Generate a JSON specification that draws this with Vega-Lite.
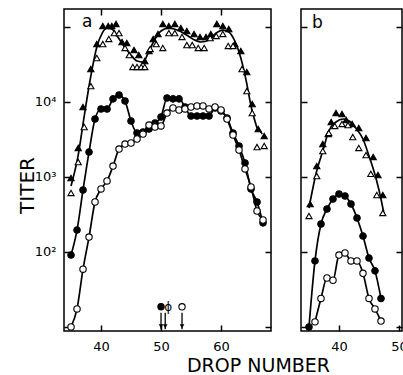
{
  "$schema": "https://vega.github.io/schema/vega-lite/v6.json",
  "background": "white",
  "padding": {"left": 16, "top": 7, "right": 0, "bottom": 0},
  "config": {
    "view": {"stroke": "black", "strokeWidth": 1.5},
    "font": "DejaVu Sans",
    "axis": {"domain": false, "grid": false, "tickColor": "black", "tickWidth": 1.5, "tickSize": -6, "labelColor": "black", "labelFont": "DejaVu Sans", "labelFontSize": 13, "titleColor": "black", "titleFont": "DejaVu Sans", "titleFontWeight": "normal", "titleFontSize": 20},
    "title": {"font": "DejaVu Sans", "fontWeight": "normal", "color": "black", "fontSize": 17}
  },
  "datasets": {
    "a_points": [
      {"series":"FC","drop":35,"titer":91},{"series":"FC","drop":36,"titer":196},{"series":"FC","drop":37,"titer":671},{"series":"FC","drop":38,"titer":2150},{"series":"FC","drop":39,"titer":5930},{"series":"FC","drop":40,"titer":8070},{"series":"FC","drop":41,"titer":8070},{"series":"FC","drop":42,"titer":11000},{"series":"FC","drop":43,"titer":12400},{"series":"FC","drop":44,"titer":10300},{"series":"FC","drop":45,"titer":5580},{"series":"FC","drop":46,"titer":3860},{"series":"FC","drop":47,"titer":3980},{"series":"FC","drop":48,"titer":4360},{"series":"FC","drop":49,"titer":5250},{"series":"FC","drop":50,"titer":6310},{"series":"FC","drop":51,"titer":11300},{"series":"FC","drop":52,"titer":11000},{"series":"FC","drop":53,"titer":11000},{"series":"FC","drop":54,"titer":8580},{"series":"FC","drop":55,"titer":6500},{"series":"FC","drop":56,"titer":6500},{"series":"FC","drop":57,"titer":6500},{"series":"FC","drop":58,"titer":6500},{"series":"FC","drop":59,"titer":8320},{"series":"FC","drop":60,"titer":7590},{"series":"FC","drop":61,"titer":6120},{"series":"FC","drop":62,"titer":3860},{"series":"FC","drop":63,"titer":2590},{"series":"FC","drop":64,"titer":1540},{"series":"FC","drop":65,"titer":692},{"series":"FC","drop":66,"titer":464},{"series":"FC","drop":67,"titer":244},
      {"series":"OC","drop":35,"titer":10},{"series":"OC","drop":36,"titer":17.4},{"series":"OC","drop":37,"titer":59},{"series":"OC","drop":38,"titer":158},{"series":"OC","drop":39,"titer":464},{"series":"OC","drop":40,"titer":692},{"series":"OC","drop":41,"titer":885},{"series":"OC","drop":42,"titer":1400},{"series":"OC","drop":43,"titer":2360},{"series":"OC","drop":44,"titer":2750},{"series":"OC","drop":45,"titer":2840},{"series":"OC","drop":46,"titer":3210},{"series":"OC","drop":47,"titer":3740},{"series":"OC","drop":48,"titer":4930},{"series":"OC","drop":49,"titer":4640},{"series":"OC","drop":50,"titer":4790},{"series":"OC","drop":51,"titer":7130},{"series":"OC","drop":52,"titer":8320},{"series":"OC","drop":53,"titer":7820},{"series":"OC","drop":54,"titer":8070},{"series":"OC","drop":55,"titer":8580},{"series":"OC","drop":56,"titer":8850},{"series":"OC","drop":57,"titer":8850},{"series":"OC","drop":58,"titer":8070},{"series":"OC","drop":59,"titer":8580},{"series":"OC","drop":60,"titer":7820},{"series":"OC","drop":61,"titer":5930},{"series":"OC","drop":62,"titer":3630},{"series":"OC","drop":63,"titer":2290},{"series":"OC","drop":64,"titer":1280},{"series":"OC","drop":65,"titer":736},{"series":"OC","drop":66,"titer":352},{"series":"OC","drop":67,"titer":267},
      {"series":"FT","drop":35.0,"titer":970},{"series":"FT","drop":36.2,"titer":2440},{"series":"FT","drop":37.0,"titer":8580},{"series":"FT","drop":38.3,"titer":27500},{"series":"FT","drop":39.3,"titer":59300},{"series":"FT","drop":40.3,"titer":103000},{"series":"FT","drop":41.2,"titer":103000},{"series":"FT","drop":41.8,"titer":103000},{"series":"FT","drop":42.5,"titer":110000},{"series":"FT","drop":43.5,"titer":63100},{"series":"FT","drop":44.3,"titer":61200},{"series":"FT","drop":45.5,"titer":49300},{"series":"FT","drop":46.3,"titer":42300},{"series":"FT","drop":47.3,"titer":35200},{"series":"FT","drop":48.0,"titer":47900},{"series":"FT","drop":48.7,"titer":69200},{"series":"FT","drop":49.5,"titer":80700},{"series":"FT","drop":50.3,"titer":110000},{"series":"FT","drop":51.3,"titer":103000},{"series":"FT","drop":52.3,"titer":110000},{"series":"FT","drop":53.3,"titer":97000},{"series":"FT","drop":54.3,"titer":88500},{"series":"FT","drop":55.5,"titer":80700},{"series":"FT","drop":56.5,"titer":73600},{"series":"FT","drop":57.5,"titer":73600},{"series":"FT","drop":58.3,"titer":80700},{"series":"FT","drop":59.3,"titer":110000},{"series":"FT","drop":60.3,"titer":103000},{"series":"FT","drop":61.3,"titer":94000},{"series":"FT","drop":62.3,"titer":59300},{"series":"FT","drop":63.3,"titer":47900},{"series":"FT","drop":64.3,"titer":25100},{"series":"FT","drop":65.2,"titer":9400},{"series":"FT","drop":66.2,"titer":4360},{"series":"FT","drop":67.2,"titer":3520},
      {"series":"OT","drop":35.0,"titer":612},{"series":"OT","drop":36.2,"titer":1580},{"series":"OT","drop":37.2,"titer":4640},{"series":"OT","drop":38.3,"titer":16300},{"series":"OT","drop":39.3,"titer":38600},{"series":"OT","drop":40.3,"titer":59300},{"series":"OT","drop":41.3,"titer":69200},{"series":"OT","drop":42.2,"titer":83000},{"series":"OT","drop":43.0,"titer":83000},{"series":"OT","drop":44.0,"titer":52500},{"series":"OT","drop":44.7,"titer":42300},{"series":"OT","drop":45.3,"titer":29300},{"series":"OT","drop":46.0,"titer":29300},{"series":"OT","drop":46.7,"titer":29300},{"series":"OT","drop":47.3,"titer":29300},{"series":"OT","drop":48.2,"titer":50900},{"series":"OT","drop":49.2,"titer":59300},{"series":"OT","drop":50.3,"titer":52500},{"series":"OT","drop":51.3,"titer":83000},{"series":"OT","drop":52.3,"titer":83000},{"series":"OT","drop":53.5,"titer":73600},{"series":"OT","drop":54.3,"titer":57500},{"series":"OT","drop":55.2,"titer":57500},{"series":"OT","drop":56.2,"titer":52500},{"series":"OT","drop":57.2,"titer":52500},{"series":"OT","drop":58.2,"titer":71300},{"series":"OT","drop":59.2,"titer":75900},{"series":"OT","drop":60.3,"titer":80700},{"series":"OT","drop":61.2,"titer":55800},{"series":"OT","drop":62.0,"titer":55800},{"series":"OT","drop":63.5,"titer":27500},{"series":"OT","drop":64.3,"titer":14000},{"series":"OT","drop":65.2,"titer":7130},{"series":"OT","drop":66.0,"titer":2510},{"series":"OT","drop":67.2,"titer":2590}
    ],
    "a_curves": [
      {"series":"TRI","drop":35.0,"titer":759},{"series":"TRI","drop":36.2,"titer":1960},{"series":"TRI","drop":37.2,"titer":6500},{"series":"TRI","drop":38.3,"titer":22200},{"series":"TRI","drop":39.3,"titer":54100},{"series":"TRI","drop":40.2,"titer":83000},{"series":"TRI","drop":41.0,"titer":97000},{"series":"TRI","drop":41.8,"titer":94000},{"series":"TRI","drop":42.8,"titer":73600},{"series":"TRI","drop":43.8,"titer":55800},{"series":"TRI","drop":45.0,"titer":42300},{"series":"TRI","drop":46.0,"titer":35200},{"series":"TRI","drop":47.0,"titer":34100},{"series":"TRI","drop":48.0,"titer":47900},{"series":"TRI","drop":49.0,"titer":69200},{"series":"TRI","drop":50.0,"titer":88500},{"series":"TRI","drop":51.3,"titer":97000},{"series":"TRI","drop":52.7,"titer":91000},{"series":"TRI","drop":54.0,"titer":80700},{"series":"TRI","drop":55.3,"titer":69200},{"series":"TRI","drop":56.7,"titer":63100},{"series":"TRI","drop":58.0,"titer":67100},{"series":"TRI","drop":59.2,"titer":83000},{"series":"TRI","drop":60.3,"titer":91000},{"series":"TRI","drop":61.3,"titer":86000},{"series":"TRI","drop":62.3,"titer":65100},{"series":"TRI","drop":63.3,"titer":38600},{"series":"TRI","drop":64.2,"titer":19100},{"series":"TRI","drop":65.0,"titer":8850},{"series":"TRI","drop":66.0,"titer":4500},
      {"series":"TRI_dash","drop":66.0,"titer":4500},{"series":"TRI_dash","drop":67.2,"titer":3520}
    ],
    "arrows": [
      {"drop":50.0,"kind":"filled"},{"drop":50.7,"kind":"half"},{"drop":53.5,"kind":"open"}
    ],
    "b_points": [
      {"series":"FC","drop":35,"titer":10},{"series":"FC","drop":36,"titer":76},{"series":"FC","drop":37,"titer":236},{"series":"FC","drop":38,"titer":374},{"series":"FC","drop":39,"titer":509},{"series":"FC","drop":40,"titer":593},{"series":"FC","drop":41,"titer":558},{"series":"FC","drop":42,"titer":436},{"series":"FC","drop":43,"titer":284},{"series":"FC","drop":44,"titer":163},{"series":"FC","drop":45,"titer":83},{"series":"FC","drop":46,"titer":56},{"series":"FC","drop":47,"titer":24},
      {"series":"OC","drop":36,"titer":11.7},{"series":"OC","drop":37,"titer":24},{"series":"OC","drop":38,"titer":45},{"series":"OC","drop":39,"titer":42},{"series":"OC","drop":40,"titer":91},{"series":"OC","drop":41,"titer":97},{"series":"OC","drop":42,"titer":76},{"series":"OC","drop":43,"titer":76},{"series":"OC","drop":44,"titer":52},{"series":"OC","drop":45,"titer":24},{"series":"OC","drop":46,"titer":17.4},{"series":"OC","drop":47,"titer":12},
      {"series":"FT","drop":35.2,"titer":436},{"series":"FT","drop":36.3,"titer":1400},{"series":"FT","drop":37.3,"titer":2750},{"series":"FT","drop":38.2,"titer":3740},{"series":"FT","drop":38.7,"titer":5410},{"series":"FT","drop":39.5,"titer":7130},{"series":"FT","drop":40.5,"titer":6920},{"series":"FT","drop":41.2,"titer":5760},{"series":"FT","drop":42.2,"titer":5090},{"series":"FT","drop":43.3,"titer":4500},{"series":"FT","drop":44.5,"titer":3310},{"series":"FT","drop":45.7,"titer":1850},{"series":"FT","drop":46.5,"titer":1060},{"series":"FT","drop":47.3,"titer":575},
      {"series":"OT","drop":35.0,"titer":302},{"series":"OT","drop":36.3,"titer":1030},{"series":"OT","drop":37.3,"titer":2220},{"series":"OT","drop":38.3,"titer":3860},{"series":"OT","drop":39.3,"titer":4790},{"series":"OT","drop":40.5,"titer":5090},{"series":"OT","drop":41.5,"titer":4930},{"series":"OT","drop":42.3,"titer":3410},{"series":"OT","drop":43.3,"titer":2440},{"series":"OT","drop":44.5,"titer":1960},{"series":"OT","drop":45.3,"titer":1100},{"series":"OT","drop":46.3,"titer":575},{"series":"OT","drop":47.3,"titer":331}
    ],
    "b_curves": [
      {"series":"TRI","drop":35.0,"titer":386},{"series":"TRI","drop":36.2,"titer":1130},{"series":"TRI","drop":37.3,"titer":2220},{"series":"TRI","drop":38.3,"titer":4100},{"series":"TRI","drop":39.5,"titer":5410},{"series":"TRI","drop":40.7,"titer":5930},{"series":"TRI","drop":41.7,"titer":5580},{"series":"TRI","drop":42.8,"titer":4500},{"series":"TRI","drop":44.0,"titer":3210},{"series":"TRI","drop":45.0,"titer":1910},{"series":"TRI","drop":46.2,"titer":940},{"series":"TRI","drop":47.0,"titer":509},{"series":"TRI","drop":47.5,"titer":321}
    ]
  },
  "resolve": {"scale": {"x": "independent", "y": "independent"}},
  "spacing": 30,
  "bounds": "flush",
  "hconcat": [
    {
      "width": 207,
      "height": 322,
      "title": {"text": "a", "anchor": "start", "frame": "group", "dx": 18, "offset": -23},
      "resolve": {"axis": {"x": "independent", "y": "independent"}},
      "layer": [
        {
          "data": {"name": "a_curves"},
          "transform": [{"filter": "datum.series == 'TRI'"}],
          "mark": {"type": "line", "interpolate": "monotone", "color": "black", "strokeWidth": 1.7},
          "encoding": {
            "x": {"field": "drop", "type": "quantitative", "scale": {"domain": [33.83, 68.33], "zero": false, "nice": false},
                  "axis": {"orient": "bottom", "values": [40, 50, 60], "title": "DROP NUMBER", "titleFontSize": 19, "titleX": 194, "titleY": 44, "titleAlign": "center", "titleBaseline": "bottom", "labelPadding": 15}},
            "y": {"field": "titer", "type": "quantitative", "scale": {"type": "log", "domain": [8.84, 173800], "nice": false},
                  "axis": {"orient": "left", "values": [10, 100, 1000, 10000, 100000], "labelExpr": "datum.value == 100 ? '10²' : datum.value == 1000 ? '10³' : datum.value == 10000 ? '10⁴' : ''", "labelFontSize": 13, "title": "TITER", "titleX": -31, "titleY": 176, "titleAngle": 270, "titleAlign": "center", "titleBaseline": "alphabetic", "labelPadding": 14}}
          }
        },
        {
          "data": {"name": "a_curves"},
          "transform": [{"filter": "datum.series == 'TRI_dash'"}],
          "mark": {"type": "line", "color": "black", "strokeWidth": 1.5, "strokeDash": [3, 2]},
          "encoding": {
            "x": {"field": "drop", "type": "quantitative", "scale": {"domain": [33.83, 68.33], "zero": false, "nice": false}, "axis": null},
            "y": {"field": "titer", "type": "quantitative", "scale": {"type": "log", "domain": [8.84, 173800], "nice": false}, "axis": null}
          }
        },
        {
          "data": {"name": "a_points"},
          "transform": [{"filter": "datum.series == 'FC' || datum.series == 'OC'"}],
          "mark": {"type": "line", "interpolate": "monotone", "color": "black", "strokeWidth": 1.7},
          "encoding": {
            "x": {"field": "drop", "type": "quantitative", "scale": {"domain": [33.83, 68.33], "zero": false, "nice": false}, "axis": null},
            "y": {"field": "titer", "type": "quantitative", "scale": {"type": "log", "domain": [8.84, 173800], "nice": false}, "axis": null},
            "detail": {"field": "series"}
          }
        },
        {
          "data": {"name": "a_points"},
          "mark": {"type": "point", "filled": true, "stroke": "black", "strokeWidth": 1.1, "opacity": 1},
          "encoding": {
            "x": {"field": "drop", "type": "quantitative", "scale": {"domain": [33.83, 68.33], "zero": false, "nice": false}, "axis": null},
            "y": {"field": "titer", "type": "quantitative", "scale": {"type": "log", "domain": [8.84, 173800], "nice": false}, "axis": null},
            "shape": {"field": "series", "type": "nominal", "scale": {"domain": ["FC", "OC", "FT", "OT"], "range": ["circle", "circle", "triangle-up", "triangle-up"]}, "legend": null},
            "fill": {"field": "series", "type": "nominal", "scale": {"domain": ["FC", "OC", "FT", "OT"], "range": ["black", "white", "black", "white"]}, "legend": null},
            "size": {"field": "series", "type": "nominal", "scale": {"domain": ["FC", "OC", "FT", "OT"], "range": [42, 38, 60, 55]}, "legend": null}
          }
        },
        {
          "data": {"name": "a_points"},
          "mark": {"type": "point", "opacity": 0},
          "encoding": {
            "x": {"field": "drop", "type": "quantitative", "scale": {"domain": [33.83, 68.33], "zero": false, "nice": false},
                  "axis": {"orient": "top", "values": [40, 50, 60], "labels": false, "title": null}},
            "y": {"field": "titer", "type": "quantitative", "scale": {"type": "log", "domain": [8.84, 173800], "nice": false},
                  "axis": {"orient": "right", "values": [10, 100, 1000, 10000, 100000], "labels": false, "title": null}}
          }
        },
        {
          "data": {"name": "arrows"},
          "mark": {"type": "rule", "color": "black", "strokeWidth": 1.3},
          "encoding": {
            "x": {"field": "drop", "type": "quantitative", "scale": {"domain": [33.83, 68.33], "zero": false, "nice": false}, "axis": null},
            "y": {"datum": 15.5, "type": "quantitative", "scale": {"type": "log", "domain": [8.84, 173800], "nice": false}, "axis": null},
            "y2": {"datum": 9.3}
          }
        },
        {
          "data": {"name": "arrows"},
          "mark": {"type": "point", "shape": "triangle-down", "filled": true, "color": "black", "size": 22, "opacity": 1},
          "encoding": {
            "x": {"field": "drop", "type": "quantitative", "scale": {"domain": [33.83, 68.33], "zero": false, "nice": false}, "axis": null},
            "y": {"datum": 10.2, "type": "quantitative", "scale": {"type": "log", "domain": [8.84, 173800], "nice": false}, "axis": null}
          }
        },
        {
          "data": {"name": "arrows"},
          "transform": [{"filter": "datum.kind != 'half'"}],
          "mark": {"type": "point", "shape": "circle", "filled": true, "stroke": "black", "strokeWidth": 1.1, "size": 40, "opacity": 1, "dx": -1},
          "encoding": {
            "x": {"field": "drop", "type": "quantitative", "scale": {"domain": [33.83, 68.33], "zero": false, "nice": false}, "axis": null},
            "y": {"datum": 18.6, "type": "quantitative", "scale": {"type": "log", "domain": [8.84, 173800], "nice": false}, "axis": null},
            "fill": {"condition": {"test": "datum.kind == 'filled'", "value": "black"}, "value": "white"}
          }
        },
        {
          "data": {"name": "arrows"},
          "transform": [{"filter": "datum.kind == 'half'"}],
          "mark": {"type": "text", "text": "ϕ", "fontSize": 12, "color": "black", "baseline": "middle", "align": "center", "dx": 3},
          "encoding": {
            "x": {"field": "drop", "type": "quantitative", "scale": {"domain": [33.83, 68.33], "zero": false, "nice": false}, "axis": null},
            "y": {"datum": 18.6, "type": "quantitative", "scale": {"type": "log", "domain": [8.84, 173800], "nice": false}, "axis": null}
          }
        }
      ]
    },
    {
      "width": 101,
      "height": 322,
      "title": {"text": "b", "anchor": "start", "frame": "group", "dx": 11, "offset": -23},
      "resolve": {"axis": {"x": "independent", "y": "independent"}},
      "layer": [
        {
          "data": {"name": "b_curves"},
          "mark": {"type": "line", "interpolate": "monotone", "color": "black", "strokeWidth": 1.7},
          "encoding": {
            "x": {"field": "drop", "type": "quantitative", "scale": {"domain": [33.67, 50.5], "zero": false, "nice": false},
                  "axis": {"orient": "bottom", "values": [40, 50], "title": null, "labelPadding": 15}},
            "y": {"field": "titer", "type": "quantitative", "scale": {"type": "log", "domain": [8.84, 173800], "nice": false},
                  "axis": {"orient": "left", "values": [10, 100, 1000, 10000, 100000], "labels": false, "title": null}}
          }
        },
        {
          "data": {"name": "b_points"},
          "transform": [{"filter": "datum.series == 'FC' || datum.series == 'OC'"}],
          "mark": {"type": "line", "interpolate": "monotone", "color": "black", "strokeWidth": 1.7},
          "encoding": {
            "x": {"field": "drop", "type": "quantitative", "scale": {"domain": [33.67, 50.5], "zero": false, "nice": false}, "axis": null},
            "y": {"field": "titer", "type": "quantitative", "scale": {"type": "log", "domain": [8.84, 173800], "nice": false}, "axis": null},
            "detail": {"field": "series"}
          }
        },
        {
          "data": {"name": "b_points"},
          "mark": {"type": "point", "filled": true, "stroke": "black", "strokeWidth": 1.1, "opacity": 1},
          "encoding": {
            "x": {"field": "drop", "type": "quantitative", "scale": {"domain": [33.67, 50.5], "zero": false, "nice": false}, "axis": null},
            "y": {"field": "titer", "type": "quantitative", "scale": {"type": "log", "domain": [8.84, 173800], "nice": false}, "axis": null},
            "shape": {"field": "series", "type": "nominal", "scale": {"domain": ["FC", "OC", "FT", "OT"], "range": ["circle", "circle", "triangle-up", "triangle-up"]}, "legend": null},
            "fill": {"field": "series", "type": "nominal", "scale": {"domain": ["FC", "OC", "FT", "OT"], "range": ["black", "white", "black", "white"]}, "legend": null},
            "size": {"field": "series", "type": "nominal", "scale": {"domain": ["FC", "OC", "FT", "OT"], "range": [42, 38, 60, 55]}, "legend": null}
          }
        },
        {
          "data": {"name": "b_points"},
          "mark": {"type": "point", "opacity": 0},
          "encoding": {
            "x": {"field": "drop", "type": "quantitative", "scale": {"domain": [33.67, 50.5], "zero": false, "nice": false}, "axis": null},
            "y": {"field": "titer", "type": "quantitative", "scale": {"type": "log", "domain": [8.84, 173800], "nice": false},
                  "axis": {"orient": "right", "values": [10, 100, 1000, 10000, 100000], "labels": false, "title": null}}
          }
        }
      ]
    }
  ]
}
